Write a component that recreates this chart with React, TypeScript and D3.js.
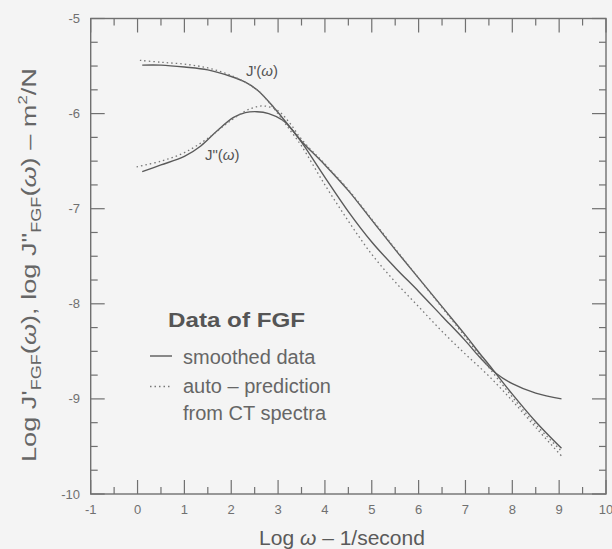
import React from 'react';
import * as d3 from 'd3';

// Log ω (1/second) sample positions and values
const jpSmoothX = [0.1, 0.5, 1.0, 1.5, 2.0, 2.3, 2.55, 2.9, 3.25, 3.5, 4.0, 4.5, 5.0, 5.5, 6.0, 6.5, 7.0, 7.3, 7.65, 8.0, 8.5, 9.05];
const jpSmoothY = [-5.49, -5.49, -5.51, -5.54, -5.61, -5.67, -5.75, -5.93, -6.14, -6.30, -6.67, -7.03, -7.35, -7.62, -7.87, -8.13, -8.39, -8.56, -8.73, -8.84, -8.94, -9.0];

const jppSmoothX = [0.1, 0.5, 1.0, 1.35, 1.7, 2.05, 2.3, 2.55, 2.8, 3.1, 3.3, 3.5, 4.0, 4.5, 5.0, 5.5, 6.0, 6.5, 7.0, 7.3, 7.5, 8.0, 8.5, 9.05];
const jppSmoothY = [-6.61, -6.54, -6.45, -6.34, -6.18, -6.04, -5.99, -5.98, -6.0, -6.07, -6.17, -6.29, -6.54, -6.81, -7.12, -7.43, -7.73, -8.03, -8.33, -8.52, -8.64, -8.95, -9.24, -9.52];

const jpPredX = [0.05, 0.5, 1.0, 1.5, 2.0, 2.55, 2.9, 3.25, 3.5, 4.0, 4.5, 5.0, 5.5, 6.0, 6.5, 7.0, 7.5, 8.0, 8.5, 9.05];
const jpPredY = [-5.44, -5.46, -5.48, -5.52, -5.60, -5.75, -5.94, -6.17, -6.34, -6.75, -7.13, -7.48, -7.77, -8.03, -8.29, -8.53, -8.76, -9.02, -9.30, -9.60];

const jppPredX = [-0.02, 0.5, 1.0, 1.5, 2.0, 2.4, 2.7, 3.0, 3.25, 3.5, 4.0, 4.5, 5.0, 5.5, 6.0, 6.5, 7.0, 7.5, 8.0, 8.5, 9.05];
const jppPredY = [-6.56, -6.50, -6.41, -6.26, -6.07, -5.95, -5.92, -5.97, -6.10, -6.27, -6.53, -6.80, -7.11, -7.42, -7.73, -8.04, -8.35, -8.67, -8.98, -9.27, -9.55];

const xTickValues = [-1, 0, 1, 2, 3, 4, 5, 6, 7, 8, 9, 10];
const xTickLabels = ['-1', '0', '1', '2', '3', '4', '5', '6', '7', '8', '9', '10'];
const yTickValues = [-5, -6, -7, -8, -9, -10];
const yTickLabels = ['-5', '-6', '-7', '-8', '-9', '-10'];

const legendTitle = 'Data of FGF';
const legendSmoothed = 'smoothed data';
const legendPred1 = 'auto \u2013 prediction';
const legendPred2 = 'from CT spectra';

const W = 612;
const H = 549;
const LEFT = 90.7;
const RIGHT = 606;
const TOP = 18.5;
const BOTTOM = 494;

const INK = '#5a5a5a';
const FONT = '"Liberation Sans", Arial, Helvetica, sans-serif';

export default function App() {
  const x = d3.scaleLinear().domain([-1, 10]).range([LEFT, RIGHT]);
  const y = d3.scaleLinear().domain([-10, -5]).range([BOTTOM, TOP]);

  const line = d3
    .line<[number, number]>()
    .x((d) => x(d[0]))
    .y((d) => y(d[1]))
    .curve(d3.curveCatmullRom.alpha(0.5));

  const zip = (xs: number[], ys: number[]) => xs.map((v, i) => [v, ys[i]] as [number, number]);

  const xMinor = d3.range(-1, 10.001, 0.5);
  const yMinor = d3.range(-10, -4.999, 0.25);
  const isMajor = (v: number) => Math.abs(v - Math.round(v)) < 1e-6;
  const MAJ = 14;
  const MIN = 7;

  return (
    <svg
      width={W}
      height={H}
      style={{ position: 'absolute', left: 0, top: 0, background: '#f4f4f4' }}
      fontFamily={FONT}
    >
      <rect x={0} y={0} width={W} height={H} fill="#f4f4f4" />
      {/* frame */}
      <rect x={LEFT} y={TOP} width={RIGHT - LEFT} height={BOTTOM - TOP} fill="none" stroke="#707070" strokeWidth={1.4} />

      {/* x ticks bottom and top */}
      {xMinor.map((v, i) => {
        const len = isMajor(v) ? MAJ : MIN;
        return (
          <g key={'xt' + i} stroke="#707070" strokeWidth={1.2}>
            <line x1={x(v)} x2={x(v)} y1={BOTTOM} y2={BOTTOM - len} />
            <line x1={x(v)} x2={x(v)} y1={TOP} y2={TOP + len} />
          </g>
        );
      })}
      {/* y ticks left and right */}
      {yMinor.map((v, i) => {
        const len = isMajor(v) ? MAJ : MIN;
        return (
          <g key={'yt' + i} stroke="#707070" strokeWidth={1.2}>
            <line x1={LEFT} x2={LEFT + len} y1={y(v)} y2={y(v)} />
            <line x1={RIGHT} x2={RIGHT - len} y1={y(v)} y2={y(v)} />
          </g>
        );
      })}

      {/* tick labels */}
      {xTickValues.map((v, i) => (
        <text key={'xl' + i} x={x(v)} y={514} textAnchor="middle" fontSize={13} fill="#707070">
          {xTickLabels[i]}
        </text>
      ))}
      {yTickValues.map((v, i) => (
        <text key={'yl' + i} x={80} y={y(v) + 4.5} textAnchor="end" fontSize={13} fill="#707070">
          {yTickLabels[i]}
        </text>
      ))}

      {/* curves */}
      <path d={line(zip(jpSmoothX, jpSmoothY)) || ''} fill="none" stroke={INK} strokeWidth={1.4} />
      <path d={line(zip(jppSmoothX, jppSmoothY)) || ''} fill="none" stroke={INK} strokeWidth={1.4} />
      <path d={line(zip(jpPredX, jpPredY)) || ''} fill="none" stroke="#777" strokeWidth={1.3} strokeDasharray="1.5,3" />
      <path d={line(zip(jppPredX, jppPredY)) || ''} fill="none" stroke="#777" strokeWidth={1.3} strokeDasharray="1.5,3" />

      {/* curve labels */}
      <text x={246} y={76} fontSize={15} fill="#555">
        J'(<tspan fontStyle="italic">ω</tspan>)
      </text>
      <text x={205} y={160} fontSize={15} fill="#555">
        J"(<tspan fontStyle="italic">ω</tspan>)
      </text>

      {/* legend */}
      <text x={168} y={327} fontSize={20} fontWeight="bold" fill="#555" textLength={137} lengthAdjust="spacingAndGlyphs">
        {legendTitle}
      </text>
      <line x1={150} x2={172} y1={356} y2={356} stroke={INK} strokeWidth={1.4} />
      <text x={183} y={364} fontSize={20} fill="#666">
        {legendSmoothed}
      </text>
      <line x1={150} x2={172} y1={386.5} y2={386.5} stroke="#777" strokeWidth={1.3} strokeDasharray="1.5,3" />
      <text x={183} y={393} fontSize={20} fill="#666">
        {legendPred1}
      </text>
      <text x={183} y={420} fontSize={20} fill="#666">
        {legendPred2}
      </text>

      {/* axis titles */}
      <text x={342} y={545} textAnchor="middle" fontSize={21} fill="#5a5a5a">
        Log <tspan fontStyle="italic">ω</tspan> – 1/second
      </text>
      <text
        transform="translate(36,265) rotate(-90)"
        textAnchor="middle"
        fontSize={21}
        fill="#666"
        textLength={394}
        lengthAdjust="spacingAndGlyphs"
      >
        Log J'<tspan fontSize={14} dy={5}>FGF</tspan>
        <tspan dy={-5}>(</tspan>
        <tspan fontStyle="italic">ω</tspan>), log J"<tspan fontSize={14} dy={5}>FGF</tspan>
        <tspan dy={-5}>(</tspan>
        <tspan fontStyle="italic">ω</tspan>) – m<tspan fontSize={13} dy={-9}>2</tspan>
        <tspan dy={9}>/N</tspan>
      </text>
    </svg>
  );
}
